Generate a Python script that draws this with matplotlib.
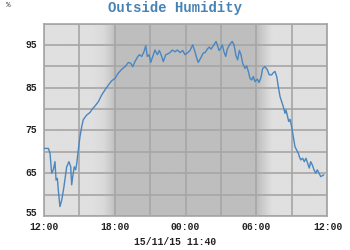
import matplotlib
matplotlib.use("Agg")
import matplotlib.pyplot as plt
import numpy as np

# Hours since 12:00 (14/11) and outside humidity (%)
hours = [0, 0.41, 0.55, 0.69, 0.83, 0.97, 1.06, 1.17, 1.25, 1.39, 1.54, 1.73, 1.96, 2.15,
         2.30, 2.38, 2.47, 2.60, 2.72, 2.81, 2.94, 3.08, 3.23, 3.36, 3.51, 3.65, 3.93, 4.12,
         4.35, 4.63, 4.92, 5.20, 5.48, 5.76, 6.05, 6.32, 6.61, 6.89, 7.17, 7.37, 7.54, 7.73,
         7.93, 8.10, 8.30, 8.49, 8.64, 8.77, 8.92, 9.06, 9.23, 9.42, 9.62, 9.79, 9.99, 10.12,
         10.33, 10.50, 10.69, 10.88, 11.11, 11.31, 11.54, 11.76, 11.96, 12.15, 12.38, 12.61,
         12.80, 12.95, 13.08, 13.28, 13.50, 13.65, 13.84, 14.01, 14.15, 14.35, 14.58, 14.69,
         14.83, 14.97, 15.11, 15.25, 15.40, 15.53, 15.68, 15.82, 15.95, 16.10, 16.27, 16.41,
         16.55, 16.69, 16.83, 17.03, 17.17, 17.31, 17.45, 17.59, 17.73, 17.87, 18.07, 18.21,
         18.38, 18.52, 18.72, 18.91, 19.08, 19.28, 19.42, 19.56, 19.71, 19.84, 19.99, 20.13,
         20.26, 20.41, 20.49, 20.60, 20.72, 20.83, 20.97, 21.11, 21.25, 21.40, 21.53, 21.62,
         21.74, 21.90, 22.04, 22.18, 22.33, 22.46, 22.58, 22.72, 22.86, 23.00, 23.14, 23.28,
         23.43, 23.67]
humidity = [70.8, 70.8, 69.7, 65.0, 65.8, 67.7, 63.4, 63.8, 61.1, 57.2, 58.7, 61.9, 66.5, 67.7,
            66.5, 62.3, 64.2, 66.5, 65.8, 67.3, 70.4, 73.5, 75.9, 77.5, 78.1, 78.6, 79.2, 80.0,
            80.7, 81.7, 83.3, 84.5, 85.6, 86.6, 87.2, 88.4, 89.3, 89.9, 90.9, 90.7, 89.9, 91.1,
            92.1, 92.7, 92.3, 93.4, 94.8, 92.3, 92.7, 90.9, 92.3, 93.8, 92.7, 93.7, 92.3, 91.1,
            92.7, 92.9, 93.2, 93.8, 93.4, 93.8, 93.2, 93.7, 92.7, 93.1, 93.7, 95.0,
            93.4, 91.9, 90.9, 91.9, 93.1, 93.2, 94.0, 94.5, 94.0, 94.8, 95.8, 95.0,
            93.7, 94.2, 95.0, 93.4, 92.3, 94.0, 94.8, 95.4, 95.8, 95.0, 92.4, 91.5,
            93.7, 92.7, 90.7, 89.5, 90.1, 88.8, 87.2, 86.8, 87.6, 86.4, 87.0, 86.2,
            87.4, 89.5, 89.9, 89.2, 88.0, 88.0, 88.5, 88.8, 87.6, 85.3, 82.9, 81.7,
            80.6, 79.0, 79.8, 78.6, 77.1, 77.6, 75.9, 73.5, 71.2, 70.4, 69.7, 68.9,
            68.1, 68.5, 67.7, 68.5, 67.3, 66.2, 67.7, 66.9, 65.8, 65.0, 65.8, 65.0,
            64.2, 64.6]

x_tick_pos = [0, 6, 12, 18, 24]
x_tick_labels = ["12:00", "18:00", "00:00", "06:00", "12:00"]
y_ticks = [55, 65, 75, 85, 95]
title = "Outside Humidity"
unit_label = "%"
date_label = "15/11/15 11:40"

mono = "Liberation Mono"
fig = plt.figure(figsize=(3.5, 2.5), dpi=100)
fig.patch.set_facecolor("white")
ax = fig.add_axes([0.1243, 0.136, 0.8114, 0.77])

# day/night background shading
light, dark = 0.878, 0.745
xs = np.linspace(0, 24, 1200)
g = np.interp(xs, [0, 4.0, 5.0, 5.6, 6.0, 18.0, 18.5, 19.3, 24],
              [light, light, 0.855, 0.80, dark, dark, 0.80, light, light])
img = np.tile(g, (2, 1))
ax.imshow(img, cmap="gray", vmin=0, vmax=1, extent=[0, 24, 55, 100],
          aspect="auto", interpolation="bilinear", zorder=0)

ax.plot(hours, humidity, color="#4a86c0", lw=1.0, zorder=3)

ax.set_xlim(0, 24)
ax.set_ylim(55, 100)
ax.set_xticks(np.arange(0, 25, 3), minor=False)
ax.set_yticks(np.arange(55, 101, 5))
ax.set_xticklabels([])
ax.set_yticklabels([])
ax.grid(True, color="#a6a6a6", lw=1.2)
ax.set_axisbelow(True)
ax.tick_params(length=0)
for s in ax.spines.values():
    s.set_color("#a6a6a6")
    s.set_linewidth(1.2)

for p, lab in zip(x_tick_pos, x_tick_labels):
    ax.text(p, 53.6, lab, ha="center", va="top", fontsize=7, family=mono,
            fontweight="bold", color="#222222")
for v in y_ticks:
    ax.text(-0.5, v + (0.6 if v == 55 else 0), str(v), ha="right", va="center", fontsize=7,
            family=mono, fontweight="bold", color="#222222")

fig.text(0.5, 0.968, title, ha="center", va="center", fontsize=10, family=mono,
         fontweight="bold", color="#4682b4")
fig.text(0.018, 0.978, unit_label, ha="left", va="center", fontsize=5.5, family=mono,
         color="#333333")
fig.text(0.5, 0.032, date_label, ha="center", va="center", fontsize=7, family=mono,
         fontweight="bold", color="#222222")

fig.savefig("out.png", dpi=100)
